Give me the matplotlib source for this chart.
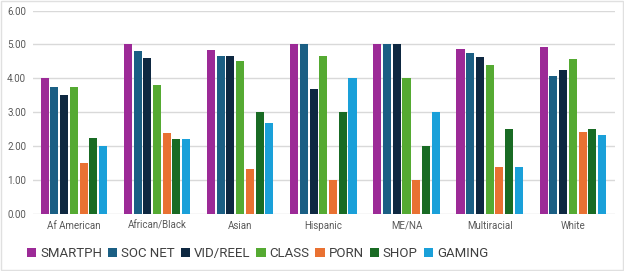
import numpy as np
import matplotlib.pyplot as plt
from matplotlib.patches import Rectangle

groups = ["Af American", "African/Black", "Asian", "Hispanic", "ME/NA", "Multiracial", "White"]
series = ["SMARTPH", "SOC NET", "VID/REEL", "CLASS", "PORN", "SHOP", "GAMING"]
colors = ["#9C2A97", "#1B5F84", "#0E2841", "#55AA32", "#E97132", "#196B24", "#1AA0D9"]

smartph = [4.00, 5.00, 4.83, 5.00, 5.00, 4.86, 4.92]
soc_net = [3.75, 4.80, 4.67, 5.00, 5.00, 4.75, 4.08]
vid_reel = [3.50, 4.60, 4.67, 3.67, 5.00, 4.63, 4.25]
class_ = [3.75, 3.80, 4.50, 4.67, 4.00, 4.38, 4.58]
porn = [1.50, 2.40, 1.33, 1.00, 1.00, 1.38, 2.42]
shop = [2.25, 2.20, 3.00, 3.00, 2.00, 2.50, 2.50]
gaming = [2.00, 2.20, 2.67, 4.00, 3.00, 1.38, 2.33]
values = [smartph, soc_net, vid_reel, class_, porn, shop, gaming]

plt.rcParams['font.family'] = ['Roboto', 'DejaVu Sans']

fig = plt.figure(figsize=(6.24, 2.71), dpi=100)
ax = fig.add_axes([0.053, 0.211, 0.933, 0.75])

x = np.arange(len(groups))
step = 0.117
width = 0.097
for i, (name, vals) in enumerate(zip(series, values)):
    ax.bar(x + (i - 3) * step, vals, width, color=colors[i], label=name, zorder=3)

ax.set_ylim(0, 6)
ax.set_xlim(-0.49, 6.51)
ax.set_yticks(np.arange(0, 7, 1))
ax.set_yticklabels([f"{v:.2f}" for v in range(7)], fontsize=7, color="#595959")
ax.set_xticks(x)
ax.set_xticklabels(groups, fontsize=7, color="#595959")
ax.tick_params(length=0, pad=5)
ax.grid(axis="y", color="#D9D9D9", linewidth=1, zorder=0)
for s in ax.spines.values():
    s.set_visible(False)

fig.legend(loc="center left", bbox_to_anchor=(0.043, 0.065), ncol=7, frameon=False,
           fontsize=9.5, handlelength=0.7, handleheight=0.7, handletextpad=0.3,
           columnspacing=0.45, labelcolor="#404040", borderpad=0, borderaxespad=0)

fig.patches.append(Rectangle((0.002, 0.004), 0.996, 0.992, transform=fig.transFigure,
                             fill=False, edgecolor="#E0E0E0", linewidth=1))

fig.savefig("out.png", dpi=100)
